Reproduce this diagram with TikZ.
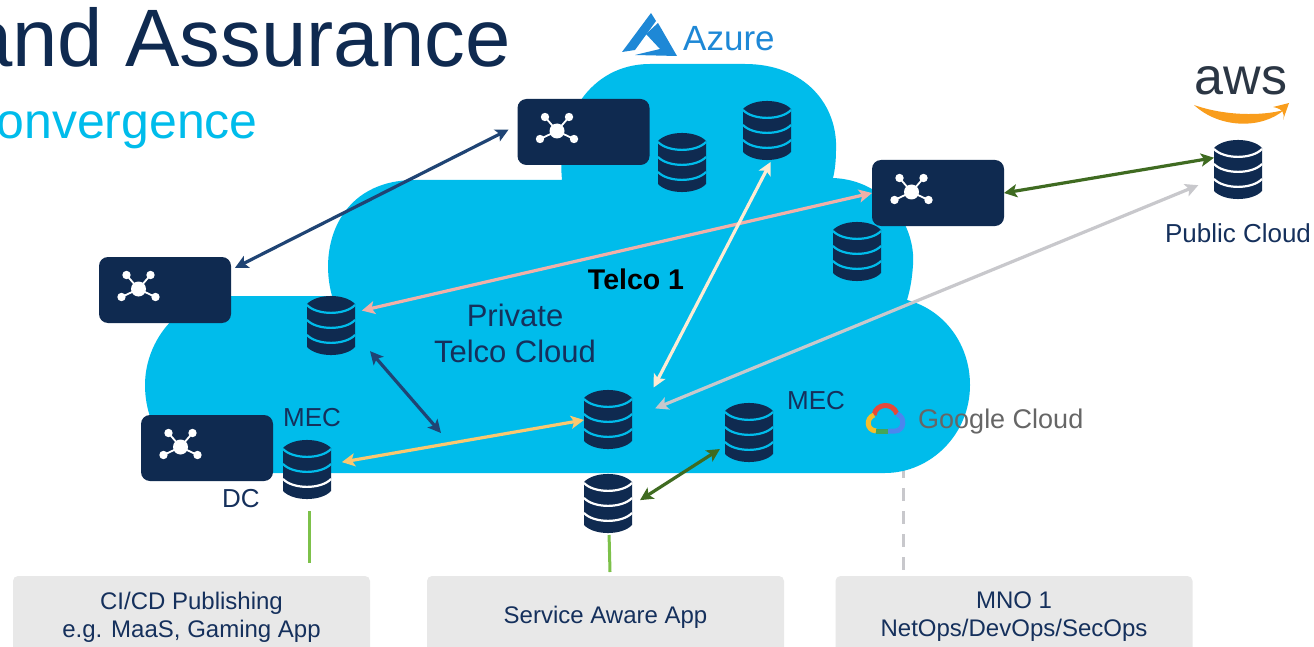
\documentclass[tikz,border=0pt]{standalone}
\usepackage{xcolor}
\usepackage{fontspec}
\setmainfont{Liberation Sans}
\usepackage{tikz}
\usetikzlibrary{arrows.meta}
\definecolor{nav}{HTML}{0F2A50}
\definecolor{ink}{HTML}{15305C}
\definecolor{sky}{HTML}{00BCEB}
\definecolor{boxg}{HTML}{E8E8E8}
\definecolor{lnkg}{HTML}{C8C8CC}
\definecolor{lnkb}{HTML}{1F4474}
\definecolor{lnkd}{HTML}{3F6B21}
\definecolor{lnkl}{HTML}{7DC14A}
\definecolor{lnkp}{HTML}{F2B0A8}
\definecolor{lnkc}{HTML}{FDEBD3}
\definecolor{lnky}{HTML}{FAC870}
\definecolor{azr}{HTML}{1E88D6}
\definecolor{awsk}{HTML}{2B3644}
\definecolor{awso}{HTML}{F99D1C}
\definecolor{gred}{HTML}{E5493A}
\definecolor{gyel}{HTML}{F6BD2A}
\definecolor{ggrn}{HTML}{45A558}
\definecolor{gblu}{HTML}{4C86EE}
\tikzstyle{gwbox}=[fill=nav,rounded corners=9pt,minimum width=132pt,minimum height=66pt,outer sep=0pt,inner sep=0pt]
\tikzstyle{dbnode}=[minimum width=48pt,minimum height=60pt,outer sep=0pt,inner sep=0pt]
\tikzstyle{appbox}=[fill=boxg,rounded corners=5pt,minimum width=357pt,minimum height=82pt,outer sep=0pt,align=center,text=ink,font=\fontsize{24}{28}\selectfont]
\tikzstyle{lab}=[text=ink,font=\fontsize{26}{30}\selectfont,inner sep=0pt]
\tikzstyle{lnk}=[line width=3.2pt,<->]
\newcommand{\gwnode}[2]{%
  \node[gwbox] (#1) at (#2) {};
  \begin{scope}[shift={(#1.center)},xshift=-26.5pt,yshift=1pt]
    \draw[white,line width=1.8pt] (-12,-14) -- (0,0) (12,-14) -- (0,0) (-17,8) -- (0,0) (17,8) -- (0,0);
    \fill[white] (0,0) circle[radius=7.5] (-12,-14) circle[radius=4.2] (12,-14) circle[radius=4.2] (-17,8) circle[radius=4.2] (17,8) circle[radius=4.2];
  \end{scope}}
\newcommand{\dbstack}[5]{%
  \node[dbnode] (#1) at (#2) {};
  \begin{scope}[shift={(#1.center)}]
    \fill[nav] (-24,-22) .. controls (-14,-32.7) and (14,-32.7) .. (24,-22) -- (24,21) .. controls (14,31.7) and (-14,31.7) .. (-24,21) -- cycle;
    \draw[#3,line width=2.2pt] (-24,-21) .. controls (-14,-10.5) and (14,-10.5) .. (24,-21);
    \draw[#4,line width=2.2pt] (-24,-6) .. controls (-14,4.5) and (14,4.5) .. (24,-6);
    \draw[#5,line width=2.2pt] (-24,9) .. controls (-14,19.5) and (14,19.5) .. (24,9);
  \end{scope}}

\begin{document}
\begin{tikzpicture}[x=1pt,y=-1pt,>={Stealth[length=13pt,width=13pt,inset=3pt]}]
\clip (0,0) rectangle (1314,647);
\fill[white] (0,0) rectangle (1314,647);
% boxes along the bottom
\node[appbox] (ciBox) at (191.5,617) {CI/CD Publishing\\e.g. MaaS, Gaming App};
\node[appbox] (appBox) at (605.5,617) {Service Aware App};
\node[appbox] (mnoBox) at (1014,617) {MNO 1\\NetOps/DevOps/SecOps};
\coordinate (cloudFoot) at (903,465);
\draw[lnkg,line width=3pt,dash pattern=on 13pt off 10pt] (cloudFoot) -- (cloudFoot |- mnoBox.north);
% cloud
\fill[sky] (230,296) -- (332,296) .. controls (318,245) and (340,180) .. (415,180) -- (562,180)
  .. controls (556,120) and (590,64) .. (650,64) -- (745,64) .. controls (805,64) and (838,105) .. (836,150)
  .. controls (836,160) and (835,170) .. (833,178) .. controls (885,180) and (916,225) .. (913,265)
  .. controls (912,280) and (910,290) .. (907,300) .. controls (945,310) and (970,345) .. (970,385)
  .. controls (970,435) and (930,473) .. (885,473) -- (225,473) .. controls (180,473) and (145,435) .. (145,385)
  .. controls (145,340) and (180,296) .. (230,296) -- cycle;
% titles
\node[anchor=base east,text=nav,font=\fontsize{81.5}{90}\selectfont,inner sep=0pt] (mainTitle) at (511,67) {and Assurance};
\node[anchor=base east,text=sky,font=\fontsize{50}{56}\selectfont,inner sep=0pt] (subTitle) at (258,139) {onvergence};
% logos
\fill[azr] (651,13) -- (622,52) -- (635,50) -- (656,21) -- cycle;
\fill[azr] (658,23) -- (677,56) -- (635,55) -- (660,49) -- (646,34) -- cycle;
\node[anchor=base west,text=azr,font=\fontsize{35}{40}\selectfont,inner sep=0pt] (azureName) at (683,51) {Azure};
\node[anchor=base,text=awsk,font=\fontsize{52}{56}\selectfont,inner sep=0pt] (awsName) at (1241,95) {aws};
\fill[awso] (1194,105) .. controls (1220,129) and (1262,129) .. (1284,110) .. controls (1262,116) and (1225,116) .. (1194,105) -- cycle;
\fill[awso] (1273,107) -- (1289,103) -- (1283,120) .. controls (1285,113) and (1283,109) .. (1273,107) -- cycle;
\draw[gred,line width=5pt] (874,415) .. controls (876,403) and (893,402) .. (897,414);
\draw[gyel,line width=5pt] (874,415) .. controls (866,418) and (866,430) .. (876,431);
\draw[ggrn,line width=5pt] (876,431) -- (888,431);
\draw[gblu,line width=5pt] (888,431) -- (895,431) .. controls (904,431) and (906,417) .. (897,414);
\node[anchor=west,text=black!60,font=\fontsize{27}{30}\selectfont,inner sep=0pt] (googleName) at (918,422) {Google Cloud};
% gateways and stacks
\gwnode{gwAzure}{583.5,132}
\gwnode{gwAws}{938,193}
\gwnode{gwEdge}{165,290}
\gwnode{gwDc}{207,448}
\dbstack{dbAzTop}{767,131}{sky}{sky}{sky}
\dbstack{dbAzLow}{682,163}{sky}{sky}{sky}
\dbstack{dbRight}{857,252}{sky}{sky}{sky}
\dbstack{dbPublic}{1238,170}{white}{white}{white}
\dbstack{dbLeft}{331,326}{sky}{sky}{sky}
\dbstack{dbMecA}{307,470}{sky}{sky}{white}
\dbstack{dbMid}{608,420}{sky}{sky}{sky}
\dbstack{dbMecB}{749,433}{sky}{sky}{sky}
\dbstack{dbBot}{608,504}{white}{white}{white}
% labels
\node[text=black,font=\fontsize{28.5}{30}\selectfont\bfseries,inner sep=0pt] (telcoName) at (636,279) {Telco 1};
\node[text=ink,font=\fontsize{31}{36}\selectfont,align=center,inner sep=0pt] (cloudName) at (515,333) {Private\\Telco Cloud};
\node[lab] (mecLeft) at (312,418) {MEC};
\node[lab] (mecRight) at (816,401) {MEC};
\node[lab] (dcName) at (241,499) {DC};
\node[lab] (publicName) at (1238,233) {Public Cloud};
% links
\coordinate (dcLink) at (441,433);
\draw[lnk,lnkb,shorten <=4.5pt,shorten >=10pt] (gwEdge.17) -- (gwAzure.174);
\draw[lnk,lnkp,shorten <=7pt] (dbLeft.30) -- (gwAws.west);
\draw[lnk,lnkc,shorten <=47pt,shorten >=1pt] (dbMid.339.4) -- (dbAzTop.278.5);
\draw[lnk,lnkb,shorten <=23pt] (dbLeft.342) -- (dcLink);
\draw[lnk,lnky,shorten <=11pt] (dbMecA.14) -- (dbMid.west);
\draw[lnk,lnkg,shorten <=25pt,shorten >=17pt] (dbMid.5) -- (dbPublic.200.6);
\draw[lnk,lnkd] (gwAws.east) -- (dbPublic.153.4);
\draw[lnk,lnkd,shorten <=9.5pt,shorten >=6pt] (dbBot.357.6) -- (dbMecB.208);
\draw[lnkl,line width=3pt,shorten <=11pt,shorten >=13pt] (dbMecA.274) -- (dbMecA.274 |- ciBox.north);
\draw[lnkl,line width=3pt,shorten <=1pt,shorten >=4pt] (dbBot.272) -- (appBox.north -| dbBot.274);
\end{tikzpicture}
\end{document}
